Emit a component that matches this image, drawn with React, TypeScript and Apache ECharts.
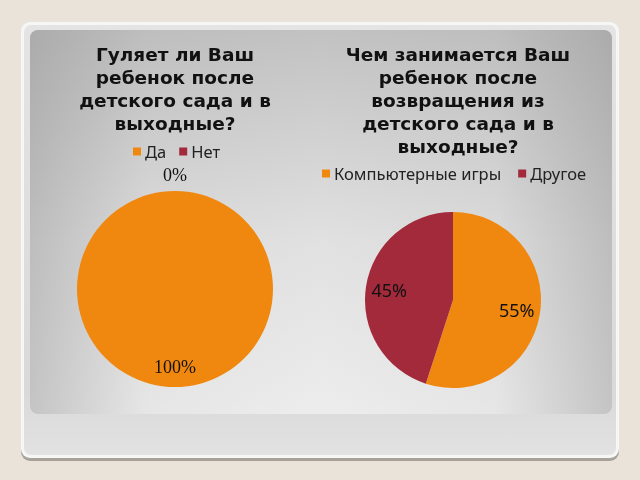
import React, { useEffect, useRef } from "react";
import * as echarts from "echarts";

const leftTitleLines = ["Гуляет ли Ваш", "ребенок после", "детского сада и в", "выходные?"];
const rightTitleLines = ["Чем занимается Ваш", "ребенок после", "возвращения из", "детского сада и в", "выходные?"];
const leftCategories = ["Да", "Нет"];
const leftValues = [100, 0];
const rightCategories = ["Компьютерные игры", "Другое"];
const rightValues = [55, 45];
const sliceColors = ["#F0880F", "#A32A3B"];

const TRANSPARENT = "rgba(0,0,0,0)";

function App() {
  const ref = useRef<HTMLDivElement>(null);

  useEffect(() => {
    if (!ref.current) return;
    const chart = echarts.init(ref.current, undefined, { renderer: "svg" });

    const leftData = leftCategories.map((n, i) => ({ name: n, value: leftValues[i] }));
    const rightData = rightCategories.map((n, i) => ({ name: n, value: rightValues[i] }));

    const pct = (p: any) => `${Math.round(p.percent)}%`;

    const overlay = (center: [number, number], radius: number, data: any[], show: boolean[], font: any) => ({
      type: "pie",
      center,
      radius,
      silent: true,
      legendHoverLink: false,
      itemStyle: { color: TRANSPARENT, borderWidth: 0 },
      emphasis: { disabled: true },
      labelLine: { show: false },
      data: data.map((d, i) => ({
        ...d,
        itemStyle: { color: TRANSPARENT },
        label: { show: show[i] },
      })),
      label: {
        position: "inside",
        formatter: pct,
        color: "#111",
        ...font,
      },
      z: 5,
    });

    const serifFont = { fontFamily: "Liberation Serif", fontSize: 18 };
    const sansFont = { fontFamily: "Noto Sans", fontSize: 18 };

    const titleStyle = { fontFamily: "DejaVu Sans", fontWeight: "bold", fontSize: 18.5, lineHeight: 23, color: "#111" };
    const legendText = { fontFamily: "Noto Sans", fontSize: 16.5, color: "#222", padding: [0, 0, 0, -1] };

    chart.setOption({
      animation: false,
      color: sliceColors,
      graphic: [
        { type: "rect", z: -100, shape: { x: 0, y: 0, width: 640, height: 480 }, style: { fill: "#E9E3D9" } },
        { type: "rect", z: -99, shape: { x: 21, y: 25, width: 598, height: 436, r: 9 }, style: { fill: "#A8A29A" } },
        { type: "rect", z: -98, shape: { x: 21, y: 22, width: 598, height: 436, r: 9 }, style: { fill: "#F6F6F4" } },
        {
          type: "rect",
          z: -97,
          shape: { x: 24, y: 25, width: 592, height: 430, r: 7 },
          style: {
            fill: new echarts.graphic.LinearGradient(0, 0, 0, 1, [
              { offset: 0, color: "#E4E4E4" },
              { offset: 0.85, color: "#D9D9D9" },
              { offset: 1, color: "#E2E2E2" },
            ]),
          },
        },
        {
          type: "rect",
          z: -96,
          shape: { x: 30, y: 30, width: 582, height: 384, r: 8 },
          style: {
            fill: new echarts.graphic.LinearGradient(0, 0, 0, 1, [
              { offset: 0, color: "#C2C2C2" },
              { offset: 0.55, color: "#E1E1E1" },
              { offset: 1, color: "#EDEDED" },
            ]),
          },
        },
        {
          type: "rect",
          z: -95,
          shape: { x: 30, y: 30, width: 582, height: 384, r: 8 },
          style: {
            fill: new echarts.graphic.LinearGradient(0, 0, 1, 0, [
              { offset: 0, color: "rgba(140,140,140,0.42)" },
              { offset: 0.2, color: "rgba(140,140,140,0.07)" },
              { offset: 0.5, color: "rgba(140,140,140,0)" },
              { offset: 0.8, color: "rgba(140,140,140,0.07)" },
              { offset: 1, color: "rgba(140,140,140,0.42)" },
            ]),
          },
        },
      ],
      title: [
        {
          text: leftTitleLines.join("\n"),
          left: 175,
          top: 43,
          textAlign: "center",
          padding: 0,
          textStyle: titleStyle,
        },
        {
          text: rightTitleLines.join("\n"),
          left: 458,
          top: 43,
          textAlign: "center",
          padding: 0,
          textStyle: titleStyle,
        },
      ],
      legend: [
        {
          data: leftCategories,
          left: 133,
          top: 143,
          padding: 0,
          icon: "rect",
          itemWidth: 8,
          itemHeight: 8,
          itemGap: 13,
          selectedMode: false,
          textStyle: legendText,
        },
        {
          data: rightCategories,
          left: 322,
          top: 165,
          padding: 0,
          icon: "rect",
          itemWidth: 8,
          itemHeight: 8,
          itemGap: 17,
          selectedMode: false,
          textStyle: legendText,
        },
      ],
      series: [
        {
          type: "pie",
          center: [175, 289],
          radius: 98,
          data: leftData,
          label: { show: false },
          labelLine: { show: false },
          emphasis: { disabled: true },
          silent: true,
        },
        {
          type: "pie",
          center: [453, 300],
          radius: 88,
          data: rightData,
          label: { show: false },
          labelLine: { show: false },
          emphasis: { disabled: true },
          silent: true,
        },
        overlay([175, 289], 150, leftData, [true, false], serifFont),
        overlay([175, 289], 222, leftData, [false, true], serifFont),
        overlay([453, 300], 123, rightData, [true, true], sansFont),
      ],
    });

    return () => chart.dispose();
  }, []);

  return (
    <div
      ref={ref}
      style={{ position: "fixed", left: 0, top: 0, width: 640, height: 480 }}
    />
  );
}

export default App;
